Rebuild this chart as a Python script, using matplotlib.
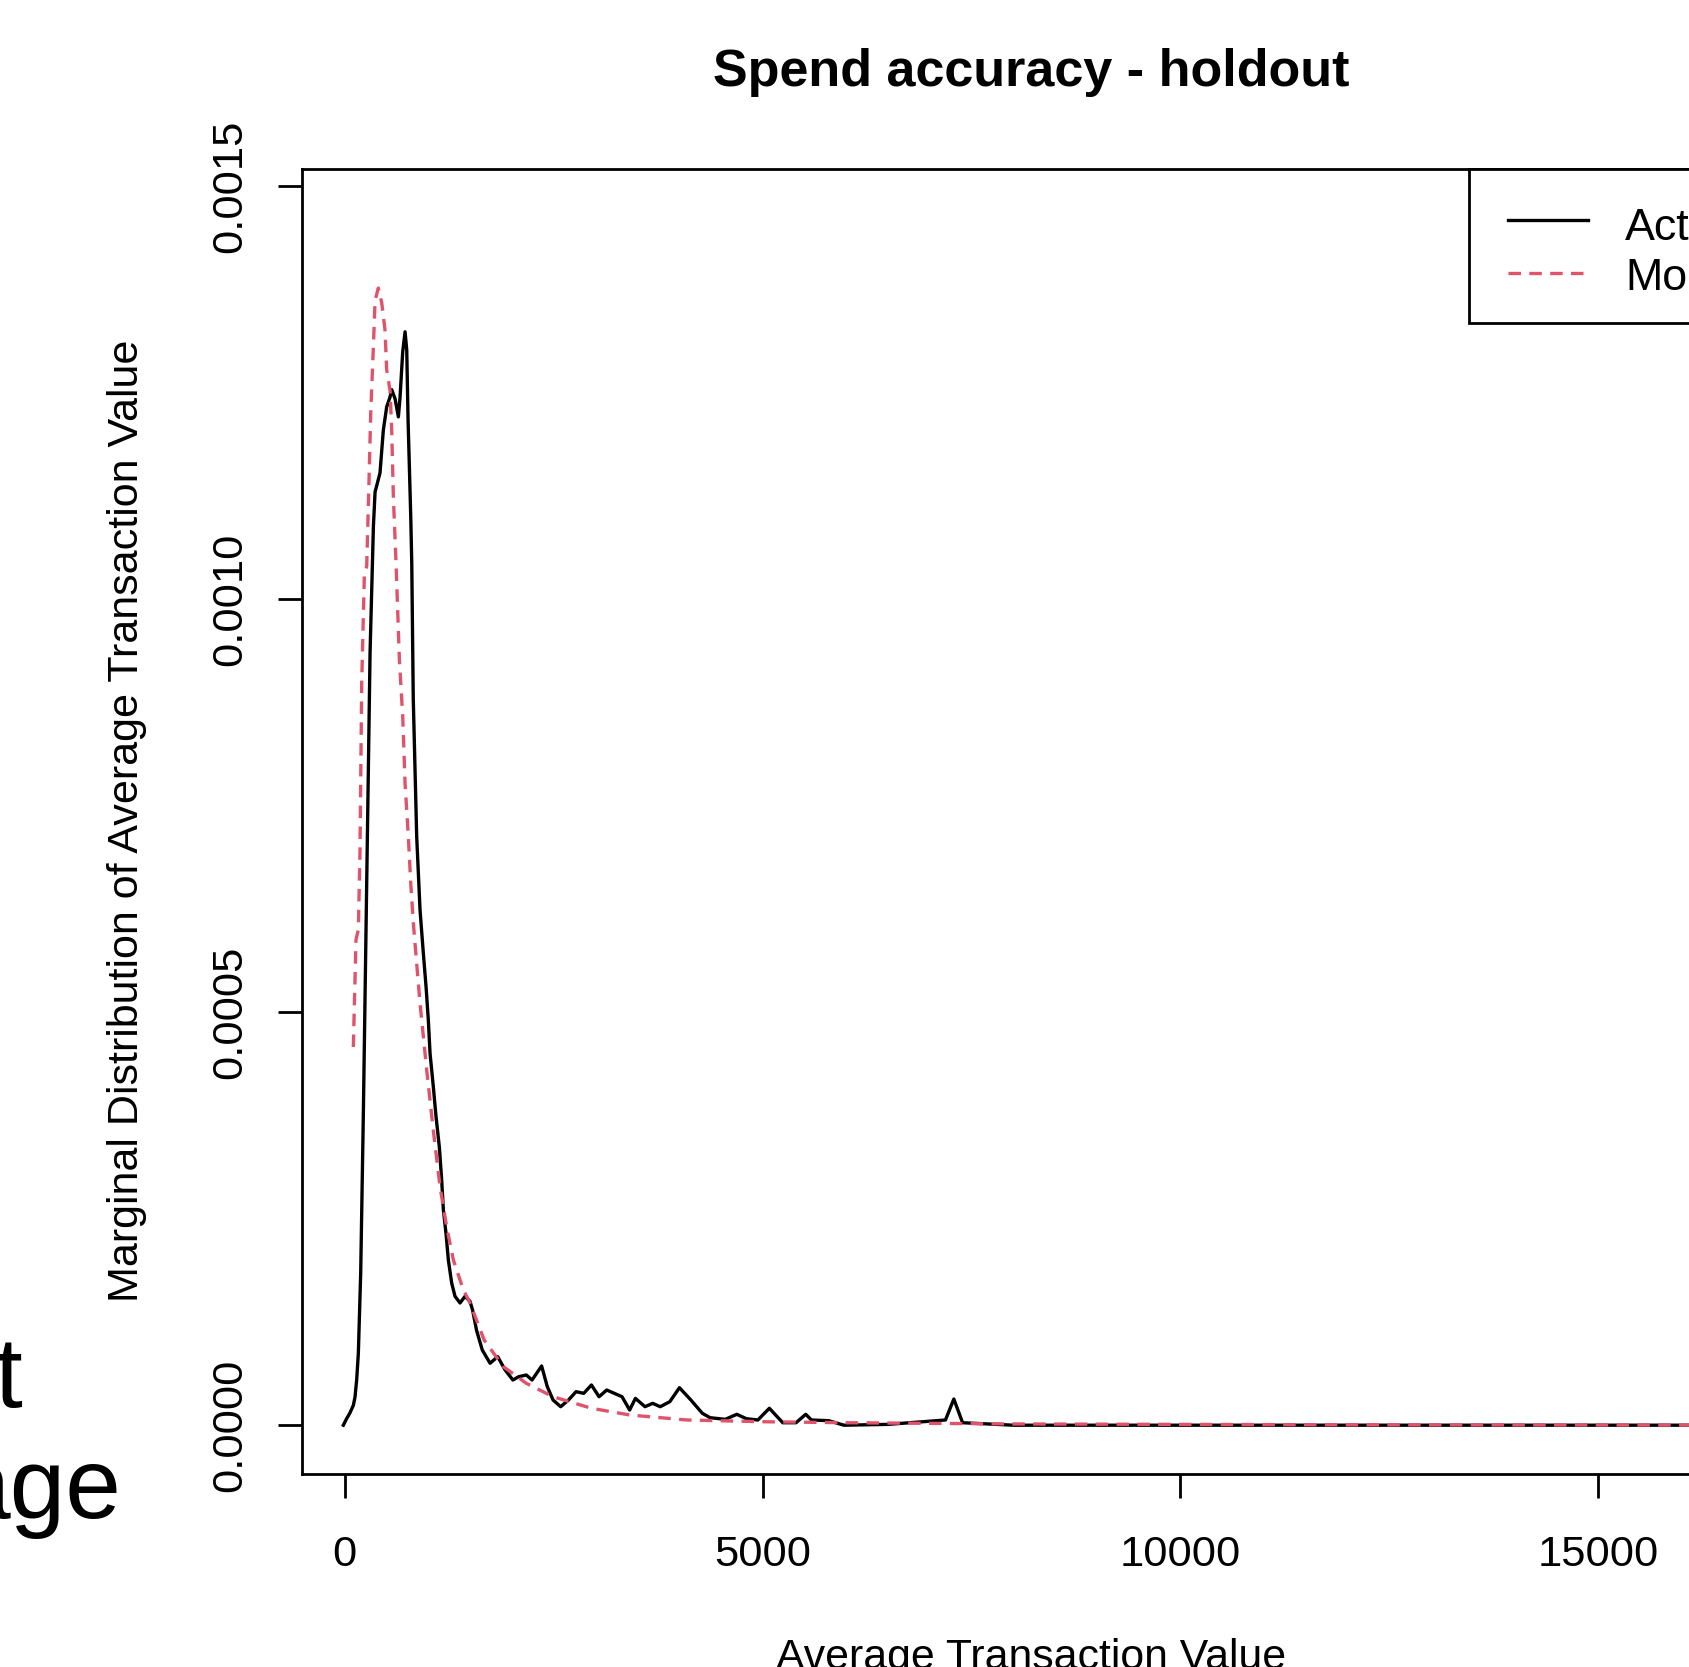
import matplotlib
matplotlib.use("Agg")
import matplotlib.pyplot as plt
from matplotlib.lines import Line2D
from matplotlib.patches import Rectangle

# ---------------- data ----------------
actual_x = [-17, 23, 63, 103, 123, 143, 163, 191, 223, 263, 303, 343, 363, 422, 462,
            502, 542, 562, 602, 642, 662, 694, 722, 742, 758, 790, 802, 820, 861, 901,
            941, 973, 1000, 1021, 1060, 1092, 1132, 1160, 1180, 1212, 1240, 1280, 1320,
            1380, 1439, 1499, 1531, 1577, 1646, 1739, 1830, 1920, 2012, 2081, 2173, 2241,
            2356, 2424, 2493, 2584, 2677, 2768, 2860, 2952, 3043, 3135, 3318, 3409, 3478,
            3593, 3684, 3775, 3890, 4005, 4142, 4279, 4371, 4554, 4691, 4805, 4943, 5081,
            5241, 5400, 5516, 5584, 5790, 5973, 6500, 7188, 7288, 7393, 8000, 12000, 16900]
actual_y = [0.000000, 0.000008, 0.000015, 0.000024, 0.000034, 0.000055, 0.000087, 0.000184,
            0.000378, 0.000657, 0.000935, 0.001088, 0.001130, 0.001153, 0.001205, 0.001233,
            0.001245, 0.001254, 0.001243, 0.001221, 0.001245, 0.001300, 0.001324, 0.001302,
            0.001217, 0.001100, 0.001044, 0.000880, 0.000713, 0.000624, 0.000571, 0.000531,
            0.000491, 0.000450, 0.000410, 0.000374, 0.000337, 0.000297, 0.000261, 0.000232,
            0.000200, 0.000172, 0.000156, 0.000148, 0.000156, 0.000150, 0.000139, 0.000115,
            0.000091, 0.000075, 0.000083, 0.0000668, 0.0000547, 0.0000587, 0.0000608,
            0.0000547, 0.0000717, 0.0000466, 0.0000305, 0.0000224, 0.0000305, 0.0000406,
            0.0000386, 0.0000487, 0.0000345, 0.0000426, 0.0000345, 0.0000184, 0.0000325,
            0.0000224, 0.0000265, 0.0000224, 0.0000285, 0.0000454, 0.0000305, 0.0000144,
            0.0000091, 0.0000071, 0.0000132, 0.0000079, 0.0000063, 0.0000205, 0.0000030,
            0.0000030, 0.0000132, 0.0000063, 0.0000055, 0.0000000, 0.0000010, 0.0000063,
            0.0000317, 0.0000030, 0.0000000, 0.0000000, 0.0000000]

model_x = [103, 135, 163, 183, 203, 235, 263, 291, 311, 343, 363, 402, 443, 482, 502, 542,
           562, 582, 614, 654, 694, 722, 761, 790, 821, 861, 901, 981, 1060, 1140, 1220,
           1300, 1419, 1499, 1669, 1898, 2173, 2493, 2952, 3409, 4096, 5012, 6000, 8000,
           12000, 16900]
model_y = [0.000458, 0.000588, 0.000600, 0.000697, 0.000898, 0.001030, 0.001040, 0.001145,
           0.001225, 0.001306, 0.001362, 0.001377, 0.001359, 0.001326, 0.001278, 0.001253,
           0.001205, 0.001124, 0.001044, 0.000927, 0.000858, 0.000777, 0.000713, 0.000656,
           0.000608, 0.000559, 0.000511, 0.000430, 0.000357, 0.000289, 0.000240, 0.000200,
           0.000164, 0.000148, 0.000103, 0.0000709, 0.0000507, 0.0000345, 0.0000205,
           0.0000124, 0.0000063, 0.0000042, 0.0000030, 0.0000015, 0.0000005, 0.0]

x_ticks = [0, 5000, 10000, 15000]
x_tick_labels = ["0", "5000", "10000", "15000"]
y_ticks = [0.0, 0.0005, 0.0010, 0.0015]
y_tick_labels = ["0.0000", "0.0005", "0.0010", "0.0015"]

title = "Spend accuracy - holdout"
x_label = "Average Transaction Value"
y_label = "Marginal Distribution of Average Transaction Value"
legend_labels = ["Actual", "Model"]

# ---------------- style ----------------
W, H = 1689, 1667
plt.rcParams['font.family'] = ['Liberation Sans', 'DejaVu Sans']
plt.rcParams['lines.scale_dashes'] = False
FS = 31.3
LW = 2.4
RED = "#DF536B"
DASH = (0, (9.0, 6.0))

def fx(px):
    return px / W

def fy(py):
    return 1 - py / H

fig = plt.figure(figsize=(W / 100, H / 100), dpi=100)
fig.patch.set_facecolor("white")

ax_l, ax_r, ax_t, ax_b = 301.6, 1760.0, 169.1, 1473.6
ax = fig.add_axes([fx(ax_l), fy(ax_b), (ax_r - ax_l) / W, (ax_b - ax_t) / H])

ax.plot(actual_x, actual_y, color="black", lw=LW, solid_joinstyle="round")
ax.plot(model_x, model_y, color=RED, lw=LW, linestyle=DASH)

ax.set_xlim(-516, 16934)
ax.set_ylim(-0.0000586, 0.0015210)

ax.set_xticks(x_ticks)
ax.set_xticklabels(x_tick_labels)
ax.set_yticks(y_ticks)
ax.set_yticklabels(y_tick_labels, rotation=90, va="center")
ax.tick_params(axis="both", direction="out", length=17.3, width=2.0, labelsize=FS,
               top=False, right=False)
ax.tick_params(axis="x", pad=27)
ax.tick_params(axis="y", pad=20)
for s in ax.spines.values():
    s.set_linewidth(2.0)
    s.set_color("black")

# titles / labels
fig.text(fx(1031), fy(86), title, ha="center", va="baseline", fontsize=37.5,
         fontweight="bold")
fig.text(fx(1031), fy(1669), x_label, ha="center", va="baseline", fontsize=30.8)
fig.text(fx(127), fy(821), y_label, ha="center", va="center", rotation=90, fontsize=31.1)

# legend (top-right, R style)
fig.add_artist(Rectangle((fx(1469), fy(323)), fx(1800) - fx(1469), fy(169.1) - fy(323),
                         transform=fig.transFigure, facecolor="white", edgecolor="black",
                         linewidth=2.0, zorder=5))
fig.add_artist(Line2D([fx(1508), fx(1588)], [fy(220), fy(220)], transform=fig.transFigure,
                      color="black", lw=LW, zorder=6))
fig.add_artist(Line2D([fx(1508), fx(1588)], [fy(273), fy(273)], transform=fig.transFigure,
                      color=RED, lw=LW, linestyle=DASH, zorder=6))
fig.text(fx(1625), fy(240), legend_labels[0], ha="left", va="baseline", fontsize=FS + 1, zorder=7)
fig.text(fx(1625), fy(290), legend_labels[1], ha="left", va="baseline", fontsize=FS + 1, zorder=7)

# partial slide text at left edge
narrow = ['Liberation Sans Narrow', 'Liberation Sans', 'DejaVu Sans']
fig.text(fx(22), fy(1407), "t", ha="right", va="baseline", fontsize=72, family=narrow)
fig.text(fx(122), fy(1518), "age", ha="right", va="baseline", fontsize=72, family=narrow)

fig.savefig("out.png", dpi=100)
